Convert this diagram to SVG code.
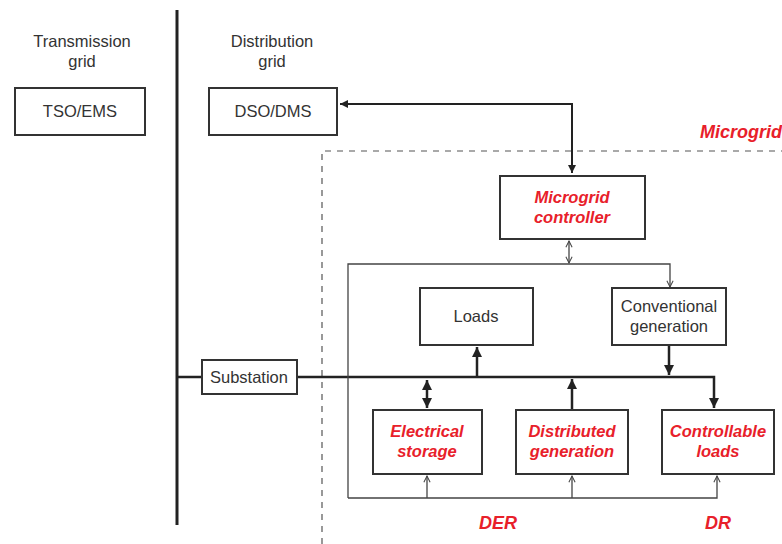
<svg xmlns="http://www.w3.org/2000/svg" width="782" height="544" viewBox="0 0 782 544">
  <style>
    .box { fill: #fff; stroke: #333; stroke-width: 2; }
    .lbl { font-family: "Liberation Sans", Arial, sans-serif; font-size: 16.5px; fill: #333; text-anchor: middle; }
    .red { font-family: "Liberation Sans", Arial, sans-serif; font-size: 16.5px; font-weight: bold; font-style: italic; fill: #e8202a; text-anchor: middle; }
    .big { font-size: 18px; }
    .thick { fill: none; stroke: #222; stroke-width: 2.5; }
    .thin { fill: none; stroke: #444; stroke-width: 1.3; }
    .dash { fill: none; stroke: #555; stroke-width: 1.2; stroke-dasharray: 6 6; }
  </style>
  <defs>
    <marker id="solid" viewBox="0 0 10 10" refX="10" refY="5" markerWidth="4" markerHeight="4" orient="auto-start-reverse" markerUnits="strokeWidth">
      <path d="M0,0 L10,5 L0,10 z" fill="#222"/>
    </marker>
    <marker id="open" viewBox="0 0 10 10" refX="9" refY="5" markerWidth="6" markerHeight="6" orient="auto-start-reverse" markerUnits="strokeWidth">
      <path d="M1,1 L9,5 L1,9" fill="none" stroke="#444" stroke-width="1.3"/>
    </marker>
  </defs>

  <rect width="782" height="544" fill="#fff"/>

  <!-- Grid headings -->
  <text class="lbl" x="82" y="47">Transmission</text>
  <text class="lbl" x="82" y="67">grid</text>
  <text class="lbl" x="272" y="47">Distribution</text>
  <text class="lbl" x="272" y="67">grid</text>

  <!-- Microgrid boundary -->
  <g id="microgrid-boundary">
    <path class="dash" d="M322,544 V151 H782"/>
    <text class="red big" x="700" y="138" style="text-anchor:start">Microgrid</text>
  </g>

  <!-- Connectors -->
  <g id="connectors">
    <!-- grid divider -->
    <line x1="177" y1="10" x2="177" y2="525" stroke="#222" stroke-width="3"/>
    <!-- DSO <-> controller -->
    <path class="thick" d="M340,104 H572 V173" marker-start="url(#solid)" marker-end="url(#solid)" style="stroke-width:2"/>
    <!-- main bus -->
    <path class="thick" d="M177,377 H714 V408" marker-end="url(#solid)"/>
    <!-- bus to loads -->
    <line class="thick" x1="477" y1="377" x2="477" y2="347" marker-end="url(#solid)"/>
    <!-- conventional generation to bus -->
    <line class="thick" x1="669" y1="346" x2="669" y2="375" marker-end="url(#solid)"/>
    <!-- storage <-> bus -->
    <line class="thick" x1="427" y1="380" x2="427" y2="408" marker-start="url(#solid)" marker-end="url(#solid)"/>
    <!-- distributed generation to bus -->
    <line class="thick" x1="572" y1="409" x2="572" y2="379" marker-end="url(#solid)"/>

    <!-- control network -->
    <line class="thin" x1="569" y1="241" x2="569" y2="263" marker-start="url(#open)" marker-end="url(#open)"/>
    <path class="thin" d="M348,498 V264 H670 V287" marker-end="url(#open)"/>
    <path class="thin" d="M348,498 H717 V476" marker-end="url(#open)"/>
    <line class="thin" x1="427" y1="498" x2="427" y2="476" marker-end="url(#open)"/>
    <line class="thin" x1="572" y1="498" x2="572" y2="476" marker-end="url(#open)"/>
  </g>

  <!-- Nodes -->
  <g id="tso-ems">
    <rect class="box" x="15" y="88" width="130" height="47"/>
    <text class="lbl" x="80" y="117">TSO/EMS</text>
  </g>
  <g id="dso-dms">
    <rect class="box" x="209" y="88" width="128" height="47"/>
    <text class="lbl" x="273" y="117">DSO/DMS</text>
  </g>
  <g id="microgrid-controller">
    <rect class="box" x="500" y="176" width="145" height="63"/>
    <text class="red" x="572" y="203">Microgrid</text>
    <text class="red" x="572" y="223">controller</text>
  </g>
  <g id="loads">
    <rect class="box" x="420" y="288" width="113" height="57"/>
    <text class="lbl" x="476" y="322">Loads</text>
  </g>
  <g id="conventional-generation">
    <rect class="box" x="612" y="288" width="114" height="57"/>
    <text class="lbl" x="669" y="312">Conventional</text>
    <text class="lbl" x="669" y="332">generation</text>
  </g>
  <g id="substation">
    <rect class="box" x="202" y="360" width="95" height="34"/>
    <text class="lbl" x="249" y="383">Substation</text>
  </g>
  <g id="electrical-storage">
    <rect class="box" x="373" y="410" width="109" height="64"/>
    <text class="red" x="427" y="437">Electrical</text>
    <text class="red" x="427" y="457">storage</text>
  </g>
  <g id="distributed-generation">
    <rect class="box" x="516" y="410" width="112" height="64"/>
    <text class="red" x="572" y="437">Distributed</text>
    <text class="red" x="572" y="457">generation</text>
  </g>
  <g id="controllable-loads">
    <rect class="box" x="662" y="410" width="112" height="64"/>
    <text class="red" x="718" y="437">Controllable</text>
    <text class="red" x="718" y="457">loads</text>
  </g>

  <!-- Group labels -->
  <text class="red big" x="498" y="529">DER</text>
  <text class="red big" x="718" y="529">DR</text>
</svg>
